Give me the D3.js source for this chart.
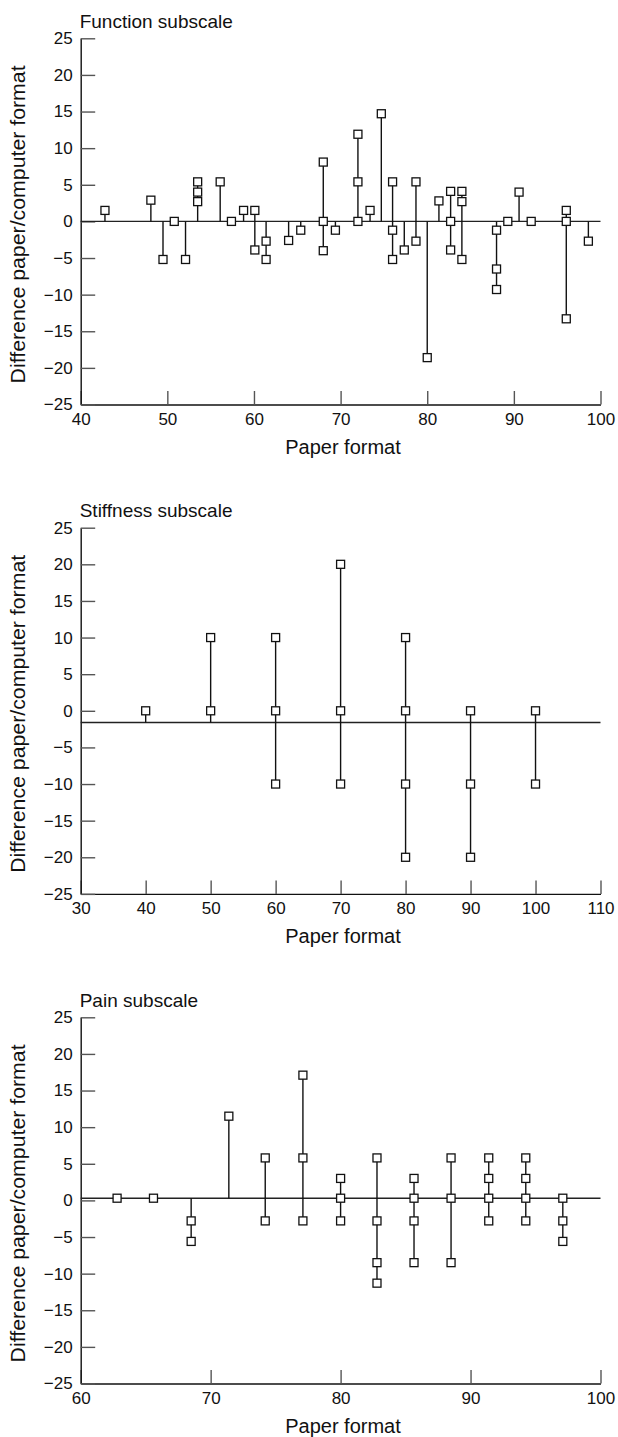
<!DOCTYPE html>
<html>
<head>
<meta charset="utf-8">
<script src="https://cdn.jsdelivr.net/npm/d3@7"></script>
<style>
  body { margin: 0; background: #fff; }
  svg { display: block; font-family: "Liberation Sans", Arial, sans-serif; }
</style>
</head>
<body>
<div id="chart"></div>
<script>
// Function subscale
var functionX = [42.8, 48.1, 49.5, 50.8, 52.1, 53.5, 56.1, 57.4, 58.8, 60.1, 61.4, 64.0, 65.4, 68.0, 69.4, 72.0,
  73.4, 74.7, 76.0, 77.35, 78.7, 80.0, 81.35, 82.7, 84.0, 88.0, 89.3, 90.6, 92.0, 96.05, 98.6];
var functionY = [[1.5], [2.9], [-5.2], [0], [-5.2], [5.4, 4.0, 2.7], [5.4], [0], [1.5], [1.5, -3.9], [-2.7, -5.2],
  [-2.6], [-1.2], [8.1, 0, -4.0], [-1.2], [11.9, 5.4, 0], [1.5], [14.7], [5.4, -1.2, -5.2], [-3.9], [5.4, -2.7],
  [-18.6], [2.8], [4.1, 0, -3.9], [4.1, 2.7, -5.2], [-1.2, -6.5, -9.3], [0], [4.0], [0], [1.5, 0, -13.3], [-2.7]];
var functionBase = 0;
var functionTicksX = [40, 50, 60, 70, 80, 90, 100];

// Stiffness subscale
var stiffnessX = [40, 50, 60, 70, 80, 90, 100];
var stiffnessY = [[0], [10, 0], [10, 0, -10], [20, 0, -10], [10, 0, -10, -20], [0, -10, -20], [0, -10]];
var stiffnessBase = -1.6;
var stiffnessTicksX = [30, 40, 50, 60, 70, 80, 90, 100, 110];

// Pain subscale
var painX = [62.8, 65.6, 68.5, 71.4, 74.2, 77.1, 80.0, 82.8, 85.65, 88.5, 91.4, 94.25, 97.1];
var painY = [[0.3], [0.3], [-2.8, -5.6], [11.5], [5.8, -2.8], [17.1, 5.8, -2.8], [3.0, 0.3, -2.8],
  [5.8, -2.8, -8.5, -11.3], [3.0, 0.3, -2.8, -8.5], [5.8, 0.3, -8.5], [5.8, 3.0, 0.3, -2.8],
  [5.8, 3.0, 0.3, -2.8], [0.3, -2.8, -5.6]];
var painBase = 0.3;
var painTicksX = [60, 70, 80, 90, 100];

var ticksY = [25, 20, 15, 10, 5, 0, -5, -10, -15, -20, -25];

var layout = {
  width: 618,
  height: 1437,
  left: 80.7,
  right: 600.5,
  plotHeight: 366.2,
};

const svg = d3
  .select("#chart")
  .append("svg")
  .attr("width", layout.width)
  .attr("height", layout.height);

drawPanel("Function subscale", 38.3, functionX, functionY, functionBase, functionTicksX);
drawPanel("Stiffness subscale", 527.7, stiffnessX, stiffnessY, stiffnessBase, stiffnessTicksX);
drawPanel("Pain subscale", 1017.3, painX, painY, painBase, painTicksX);

function drawPanel(title, top, xs, ys, base, ticksX) {
  var bottom = top + layout.plotHeight;
  var g = svg.append("g");

  var x = d3
    .scaleLinear()
    .domain(d3.extent(ticksX))
    .range([layout.left, layout.right]);

  var y = d3
    .scaleLinear()
    .domain([-25, 25])
    .range([bottom, top]);

  var xAxis = g
    .append("g")
    .attr("transform", `translate(0, ${bottom})`)
    .call(d3.axisBottom(x).tickValues(ticksX).tickSize(-13.5).tickSizeOuter(0).tickPadding(8).tickFormat((d) => d));

  var yAxis = g
    .append("g")
    .attr("transform", `translate(${layout.left}, 0)`)
    .call(d3.axisLeft(y).tickValues(ticksY).tickSize(-14.5).tickSizeOuter(0).tickPadding(8).tickFormat(d3.format("d")));

  [xAxis, yAxis].forEach((a) => {
    a.select(".domain").attr("stroke", "#111").attr("stroke-width", 1.4);
    a.selectAll(".tick line").attr("stroke", "#555").attr("stroke-width", 1.4);
    a.selectAll(".tick text").attr("fill", "#111").style("font-size", "17px");
  });

  g.append("text")
    .attr("x", layout.left - 1)
    .attr("y", top - 10.5)
    .attr("fill", "#111")
    .style("font-size", "19px")
    .text(title);

  g.append("text")
    .attr("x", 343)
    .attr("y", bottom + 49.5)
    .attr("text-anchor", "middle")
    .attr("fill", "#111")
    .style("font-size", "20px")
    .text("Paper format");

  g.append("text")
    .attr("transform", `translate(25, ${(top + bottom) / 2 + 3}) rotate(-90)`)
    .attr("text-anchor", "middle")
    .attr("fill", "#111")
    .attr("textLength", 318)
    .attr("lengthAdjust", "spacingAndGlyphs")
    .style("font-size", "20px")
    .text("Difference paper/computer format");

  // reference line
  g.append("line")
    .attr("x1", layout.left)
    .attr("x2", x.range()[1])
    .attr("y1", y(base))
    .attr("y2", y(base))
    .attr("stroke", "#222")
    .attr("stroke-width", 1.4);

  var groups = xs.map((v, i) => ({ x: v, ys: ys[i] }));

  // stems from the reference line to the furthest points
  g.append("g")
    .selectAll("line")
    .data(groups)
    .join("line")
    .attr("x1", (d) => x(d.x))
    .attr("x2", (d) => x(d.x))
    .attr("y1", (d) => y(Math.min(base, d3.min(d.ys))))
    .attr("y2", (d) => y(Math.max(base, d3.max(d.ys))))
    .attr("stroke", "#111")
    .attr("stroke-width", 1.4);

  var points = [];
  groups.forEach((d) => d.ys.forEach((v) => points.push({ x: d.x, y: v })));

  g.append("g")
    .selectAll("rect")
    .data(points)
    .join("rect")
    .attr("x", (d) => x(d.x) - 4)
    .attr("y", (d) => y(d.y) - 4)
    .attr("width", 8)
    .attr("height", 8)
    .attr("fill", "white")
    .attr("stroke", "#111")
    .attr("stroke-width", 1.3);
}
</script>
</body>
</html>
